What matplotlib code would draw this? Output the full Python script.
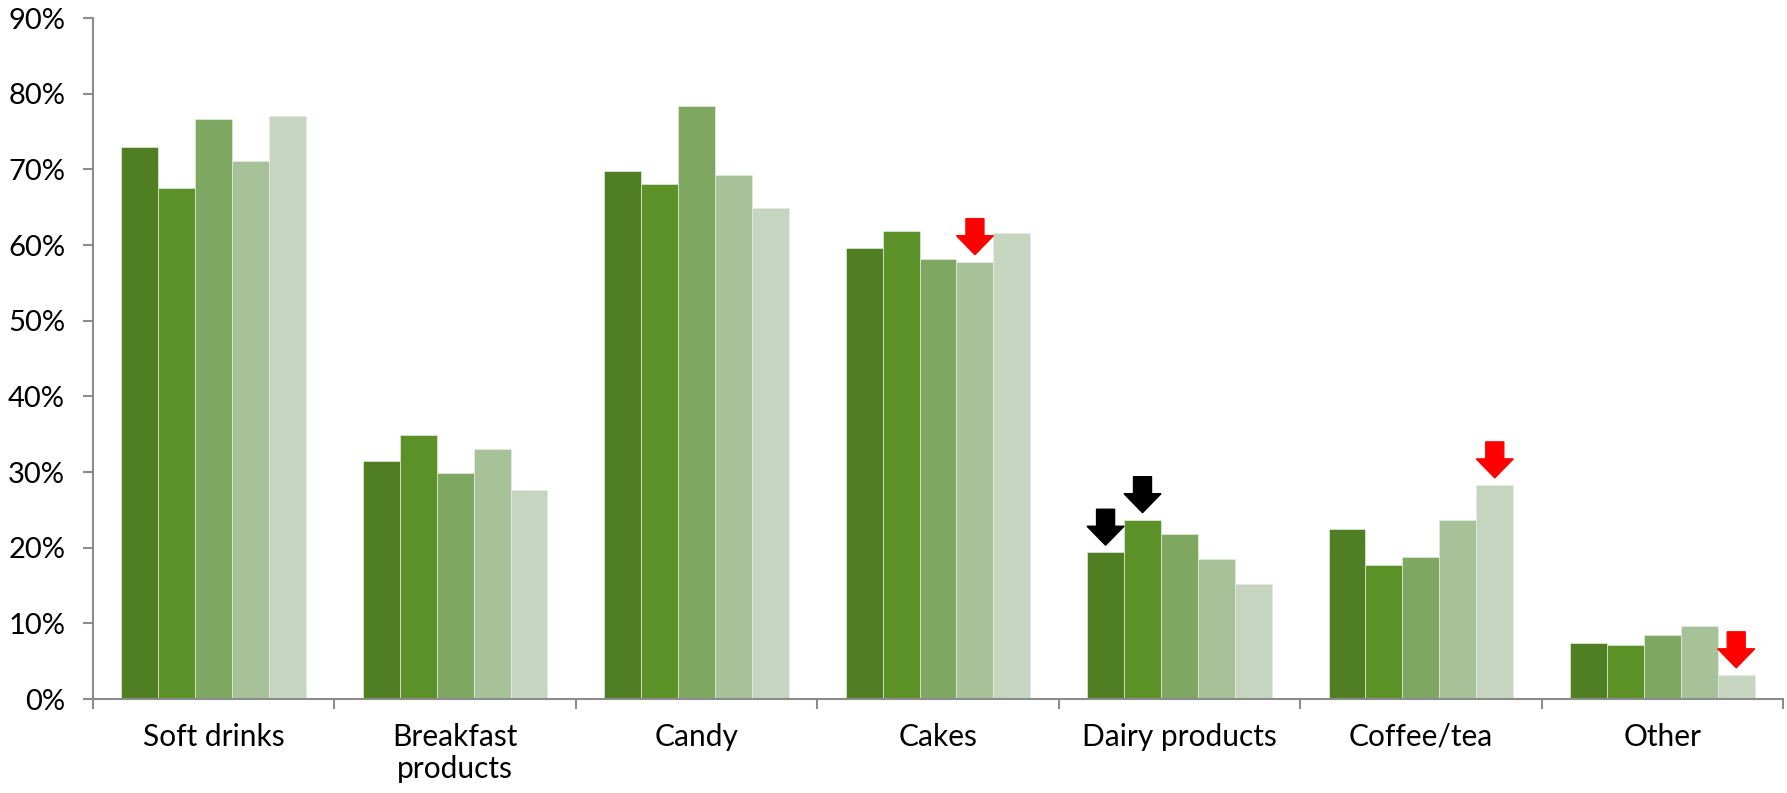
import numpy as np
import matplotlib
matplotlib.use("Agg")
import matplotlib.pyplot as plt
from matplotlib.patches import Polygon
from matplotlib.transforms import ScaledTranslation
from matplotlib.ticker import PercentFormatter

plt.rcParams['font.family'] = ['Lato', 'DejaVu Sans']

categories = ["Soft drinks", "Breakfast\nproducts", "Candy", "Cakes",
              "Dairy products", "Coffee/tea", "Other"]

# five series, one per shade of green
series = [
    [72.9, 31.5, 69.8, 59.6, 19.4, 22.5, 7.4],
    [67.6, 34.9, 68.0, 61.9, 23.7, 17.7, 7.2],
    [76.6, 29.9, 78.4, 58.1, 21.8, 18.8, 8.5],
    [71.1, 33.1, 69.2, 57.8, 18.5, 23.6, 9.6],
    [77.0, 27.6, 64.9, 61.6, 15.2, 28.3, 3.2],
]
colors = ["#4f7f22", "#5b9127", "#7ea862", "#a7c299", "#c6d5bf"]

# (series index, category index, arrow colour)
arrows = [(3, 3, "#ff0000"), (4, 5, "#ff0000"), (4, 6, "#ff0000"),
          (0, 4, "#000000"), (1, 4, "#000000")]

fig = plt.figure(figsize=(17.87, 7.93), dpi=100)
ax = fig.add_axes([0.052, 0.1185, 0.9458, 0.8588])

x = np.arange(len(categories))
width = 0.153
for i, vals in enumerate(series):
    ax.bar(x + (i - 2) * width, vals, width, color=colors[i],
           edgecolor="#e4ecde", linewidth=0.5, zorder=2)

# block arrows pointing down at selected bars (drawn in pixel units)
shape = np.array([[0, 7], [-18.5, 26], [-9, 26], [-9, 43],
                  [9, 43], [9, 26], [18.5, 26]])
for s, c, col in arrows:
    xb = x[c] + (s - 2) * width
    tr = ScaledTranslation(xb, series[s][c], ax.transData)
    ax.add_patch(Polygon(shape, closed=True, color=col, transform=tr,
                         zorder=3, clip_on=False))

ax.set_xlim(-0.5, len(categories) - 0.5)
ax.set_ylim(0, 90)
ax.set_yticks(np.arange(0, 91, 10))
ax.yaxis.set_major_formatter(PercentFormatter(decimals=0))

ax.set_xticks(np.arange(-0.5, len(categories), 1))
ax.set_xticklabels([])
ax.set_xticks(x, minor=True)
ax.set_xticklabels(categories, minor=True, fontsize=21.5, linespacing=1.2)

for sp in ["top", "right"]:
    ax.spines[sp].set_visible(False)
for sp in ["left", "bottom"]:
    ax.spines[sp].set_color("#8c8c8c")
    ax.spines[sp].set_linewidth(1.5)

ax.tick_params(axis="y", which="major", length=7, width=1.5, color="#8c8c8c",
               labelsize=21, pad=13)
ax.tick_params(axis="x", which="major", length=7, width=1.5, color="#8c8c8c")
ax.tick_params(axis="x", which="minor", length=0, pad=17)

fig.savefig("out.png", dpi=100)
